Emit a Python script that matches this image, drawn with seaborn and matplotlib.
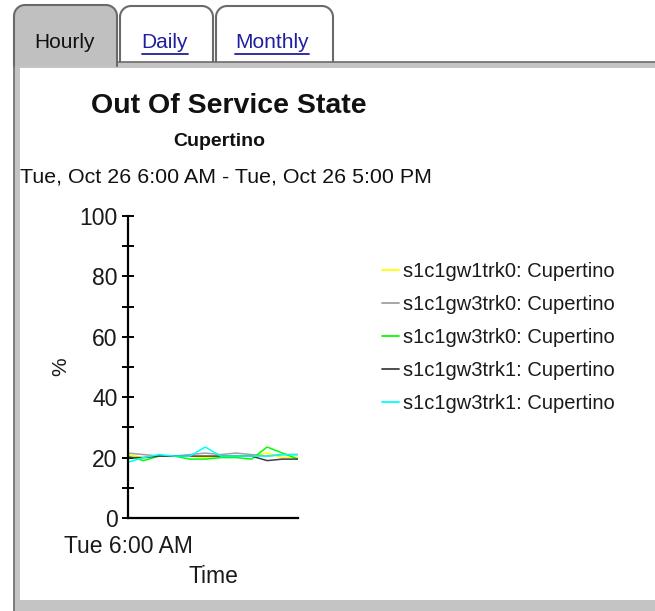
import matplotlib
matplotlib.use("Agg")
import numpy as np
import matplotlib.pyplot as plt
import seaborn as sns
import pandas as pd
from matplotlib.patches import FancyBboxPatch, Polygon
from matplotlib.lines import Line2D
from matplotlib.transforms import Affine2D

# ---- data -------------------------------------------------------------
hours = ["6:00", "7:00", "8:00", "9:00", "10:00", "11:00",
         "12:00", "13:00", "14:00", "15:00", "16:00", "17:00"]
gw1trk0 = [21.0, 20.0, 20.5, 20.5, 20.5, 20.0, 20.5, 20.5, 20.5, 21.5, 20.0, 20.0]
gw3trk0_a = [21.5, 21.0, 20.5, 20.5, 21.0, 21.5, 21.0, 21.5, 21.0, 20.5, 21.0, 21.0]
gw3trk0_b = [20.5, 19.0, 20.5, 20.5, 19.5, 19.5, 20.0, 20.0, 19.5, 23.5, 21.5, 19.5]
gw3trk1_a = [20.0, 20.0, 20.5, 20.5, 20.5, 20.5, 20.5, 20.5, 20.5, 19.0, 19.5, 19.5]
gw3trk1_b = [18.5, 20.0, 21.0, 20.5, 20.5, 23.5, 20.5, 20.5, 20.5, 20.5, 21.0, 21.0]

series_values = [gw1trk0, gw3trk0_a, gw3trk0_b, gw3trk1_a, gw3trk1_b]
series_labels = ["s1c1gw1trk0: Cupertino", "s1c1gw3trk0: Cupertino",
                 "s1c1gw3trk0: Cupertino", "s1c1gw3trk1: Cupertino",
                 "s1c1gw3trk1: Cupertino"]
series_colors = ["#ffff00", "#a0a0a0", "#00ff00", "#404040", "#00ffff"]

y_ticks = [0, 20, 40, 60, 80, 100]
y_minor = [10, 30, 50, 70, 90]
x_tick_label = "Tue 6:00 AM"

# ---- figure -----------------------------------------------------------
W, H = 655, 611
sns.set_style("white")
plt.rcParams["font.family"] = ["Liberation Sans", "DejaVu Sans"]

fig = plt.figure(figsize=(W / 100, H / 100), dpi=100)
fig.patch.set_facecolor("white")
pix = Affine2D().scale(0.01) + fig.dpi_scale_trans   # pixel coords, origin bottom-left


def fx(x):
    return x / W


def fy(y):
    return 1 - y / H


def rect(x0, y_top, x1, y_bot, fc, ec, z, lw=1.2):
    p = FancyBboxPatch((x0, H - y_bot), x1 - x0, y_bot - y_top,
                       boxstyle="square,pad=0", facecolor=fc, edgecolor=ec,
                       linewidth=lw, transform=pix, zorder=z)
    fig.add_artist(p)


def tab(x0, y_top, x1, y_bot, fc, ec, z, r=11, lw=1.5):
    # tab outline: rounded top corners, open square bottom
    a = np.linspace(np.pi, np.pi / 2, 12)
    left = np.c_[x0 + r + r * np.cos(a), (H - y_top - r) + r * np.sin(a)]
    b = np.linspace(np.pi / 2, 0, 12)
    right = np.c_[x1 - r + r * np.cos(b), (H - y_top - r) + r * np.sin(b)]
    pts = np.vstack([[x0, H - y_bot], left, right, [x1, H - y_bot]])
    fig.add_artist(Polygon(pts, closed=True, facecolor=fc, edgecolor="none",
                           transform=pix, zorder=z))
    fig.add_artist(Line2D(pts[:, 0], pts[:, 1], color=ec, linewidth=lw,
                          transform=pix, zorder=z + 0.1))


# tab strip and panel frame
tab(120, 6, 213, 64, "white", "#6a6a6a", z=-6)
tab(216, 6, 333, 64, "white", "#6a6a6a", z=-6)
rect(14, 62, 720, 720, "#c4c4c4", "#6a6a6a", z=-5)
tab(14, 5, 117, 66, "#c0c0c0", "#6a6a6a", z=-4)
rect(20, 68, 720, 600, "white", "none", z=-3, lw=0)

fig.text(fx(65), fy(48), "Hourly", fontsize=15, color="#111111",
         ha="center", va="baseline")
link_color = "#1f1fa0"
links = [fig.text(fx(cx), fy(48), txt, fontsize=15, color=link_color,
                  ha="center", va="baseline")
         for cx, txt in [(165, "Daily"), (272, "Monthly")]]
fig.canvas.draw()
renderer = fig.canvas.get_renderer()
for t in links:
    bb = t.get_window_extent(renderer)
    fig.add_artist(Line2D([bb.x0, bb.x1], [H - 53.5, H - 53.5], color=link_color,
                          linewidth=1.3, transform=pix, zorder=5))

# titles
fig.text(fx(229), fy(106), "Out Of Service State", fontsize=20.5,
         fontweight="bold", ha="center", va="center", color="#111111")
fig.text(fx(219), fy(142), "Cupertino", fontsize=14, fontweight="bold",
         ha="center", va="center", color="#111111")
fig.text(fx(20), fy(177), "Tue, Oct 26 6:00 AM - Tue, Oct 26 5:00 PM",
         fontsize=15.4, ha="left", va="center", color="#111111")

# ---- chart ------------------------------------------------------------
ax = fig.add_axes([fx(128), fy(518), 170 / W, 302 / H])
ax.patch.set_alpha(0)

frames = []
for i, (vals, lab) in enumerate(zip(series_values, series_labels)):
    frames.append(pd.DataFrame({"idx": range(len(hours)), "hour": hours,
                                "value": vals, "series": f"{i}", "label": lab}))
df = pd.concat(frames, ignore_index=True)

palette = {f"{i}": c for i, c in enumerate(series_colors)}
sns.lineplot(data=df, x="idx", y="value", hue="series", palette=palette,
             linewidth=1.1, legend=False, ax=ax, sort=False)

ax.set_xlim(0, len(hours) - 1)
ax.set_ylim(0, 100)
ax.set_yticks(y_ticks)
ax.set_yticks(y_minor, minor=True)
ax.set_yticklabels([str(v) for v in y_ticks])
ax.set_xticks([0])
ax.set_xticklabels([x_tick_label])

for side in ["top", "right"]:
    ax.spines[side].set_visible(False)
for side in ["left", "bottom"]:
    ax.spines[side].set_color("black")
    ax.spines[side].set_linewidth(1.6)

ax.tick_params(axis="y", which="both", direction="inout", length=9,
               width=1.4, colors="black", labelsize=16.5, pad=3, left=True)
ax.tick_params(axis="x", which="both", length=0, labelsize=16.5, pad=12,
               colors="black", bottom=True)
for lbl in ax.get_yticklabels() + ax.get_xticklabels():
    lbl.set_color("#1a1a1a")

ax.set_xlabel("Time", fontsize=16.5, color="#1a1a1a", labelpad=5)
ax.set_ylabel("%", fontsize=15, color="#1a1a1a")
ax.yaxis.set_label_coords(-0.34, 0.5)

handles = [Line2D([], [], color=c, linewidth=1.3) for c in series_colors]
ax.legend(handles, series_labels, loc="upper left",
          bbox_to_anchor=(fx(382), fy(262)), bbox_transform=fig.transFigure,
          frameon=False, fontsize=14.5, handlelength=0.85, handletextpad=0.2,
          labelspacing=0.69, borderpad=0, borderaxespad=0,
          labelcolor="#1a1a1a")

fig.savefig("out.png", dpi=100)
